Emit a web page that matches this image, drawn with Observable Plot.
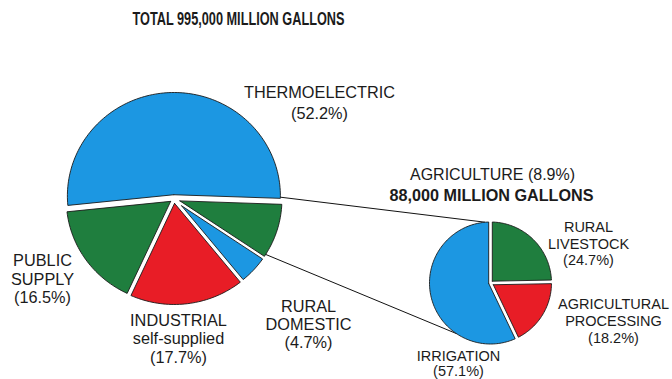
<!DOCTYPE html>
<html>
<head>
<meta charset="utf-8">
<script src="https://cdn.jsdelivr.net/npm/d3@7"></script>
<script src="https://cdn.jsdelivr.net/npm/@observablehq/plot@0.6"></script>
<style>
  html, body { margin: 0; padding: 0; background: #fff; }
  #chart svg { display: block; }
</style>
</head>
<body>
<div id="chart"></div>
<script>
// ---------- data ----------
const totalGallons = 995000;           // million gallons
const agricultureGallons = 88000;      // million gallons
const agricultureShare = 8.9;

const mainCategories = ["Agriculture", "Rural domestic", "Industrial", "Public supply", "Thermoelectric"];
const mainShares = [8.9, 4.7, 17.7, 16.5, 52.2];
const mainLabels = ["", "RURAL\nDOMESTIC", "INDUSTRIAL\nself-supplied", "PUBLIC\nSUPPLY", "THERMOELECTRIC"];

const agCategories = ["Rural livestock", "Agricultural processing", "Irrigation"];
const agShares = [24.7, 18.2, 57.1];
const agLabels = ["RURAL\nLIVESTOCK", "AGRICULTURAL\nPROCESSING", "IRRIGATION"];

// ---------- styling / layout ----------
const BLUE = "#1c97e2", GREEN = "#1f7e3e", RED = "#e81d26";
const colorDomain = [...mainCategories, ...agCategories];
const colorRange = [GREEN, BLUE, RED, GREEN, BLUE, GREEN, RED, BLUE];

const deg = Math.PI / 180;
const mainPie = {cx: 173.5, cy: 198.5, rx: 106.5, ry: 103.5, pad: 1.3, start: 92 * deg,
  explode: {"Thermoelectric": 3, "Agriculture": 1.5, "Rural domestic": 1.5, "Industrial": 2, "Public supply": 1.5}};
const agPie = {cx: 490, cy: 282.5, rx: 61, ry: 61, pad: 1.8, start: 0, explode: {}};

function piePoints(cats, shares, o, prefix) {
  const arcs = d3.pie().sort(null).value(d => d)
    .startAngle(o.start).endAngle(o.start + 2 * Math.PI)(shares);
  const k = o.ry / o.rx;
  const pts = [];
  arcs.forEach((a, i) => {
    const cat = cats[i];
    const a0 = a.startAngle, a1 = a.endAngle, s = a1 - a0, m = (a0 + a1) / 2;
    const ex = o.explode[cat] || 0;
    const d = o.pad / Math.sin(s / 2);
    const da = Math.asin(o.pad / o.rx);
    const b0 = a0 + da, b1 = a1 - da;
    const n = Math.max(2, Math.ceil((b1 - b0) / (1.5 * deg)));
    const P = (dx, dy) => ({
      id: prefix + i, cat,
      x: o.cx + ex * Math.sin(m) + dx,
      y: o.cy - ex * Math.cos(m) + dy * k
    });
    const v = P(d * Math.sin(m), -d * Math.cos(m));
    pts.push(v);
    for (let j = 0; j <= n; j++) {
      const t = b0 + (b1 - b0) * j / n;
      pts.push(P(o.rx * Math.sin(t), -o.rx * Math.cos(t)));
    }
    pts.push({...v});
  });
  return pts;
}
function piePoint(o, angleDeg) {
  const t = angleDeg * deg;
  return [o.cx + o.rx * Math.sin(t), o.cy - o.ry * Math.cos(t)];
}

const slicePts = [
  ...piePoints(mainCategories, mainShares, mainPie, "m"),
  ...piePoints(agCategories, agShares, agPie, "a")
];

// connectors from the agriculture wedge to the breakdown pie
const [c1x1, c1y1] = piePoint(mainPie, 89);
const [c1x2, c1y2] = piePoint(agPie, -5);
const [c2x1, c2y1] = piePoint(mainPie, 122);
const [c2x2, c2y2] = piePoint(agPie, 214);
const connectors = [
  {x1: c1x1, y1: c1y1, x2: c1x2, y2: c1y2},
  {x1: c2x1, y1: c2y1, x2: c2x2, y2: c2y2}
];

const pct = v => `(${v.toFixed(1)}%)`;
const fmt = d3.format(",");

// label anchors (layout)
const mainLabelPos = {
  "Thermoelectric": {x: 319, y: 90, lh: 1.33},
  "Public supply": {x: 42, y: 261, lh: 1.12},
  "Industrial": {x: 178, y: 320, lh: 1.15},
  "Rural domestic": {x: 308, y: 307, lh: 1.1}
};
const agLabelPos = {
  "Rural livestock": {x: 588, y: 227, lh: 1.15},
  "Agricultural processing": {x: 613, y: 303.5, lh: 1.18},
  "Irrigation": {x: 458, y: 357, lh: 1.05}
};

const mainText = mainCategories.map((c, i) => ({c, text: mainLabels[i] + "\n" + pct(mainShares[i]), ...mainLabelPos[c]}))
  .filter(d => d.x !== undefined);
const agText = agCategories.map((c, i) => ({c, text: agLabels[i] + "\n" + pct(agShares[i]), ...agLabelPos[c]}));

const textMarks = (rows, size) => rows.map(r => Plot.text([r], {
  x: "x", y: "y", text: "text", fontSize: size, lineHeight: r.lh,
  lineAnchor: "top", dy: -size * 0.5, fill: "#1b1b1b", textAnchor: "middle"
}));

const titleText = `TOTAL ${fmt(totalGallons)} MILLION GALLONS`;

const chart = Plot.plot({
  width: 672, height: 379, margin: 0,
  x: {domain: [0, 672], range: [0, 672], axis: null},
  y: {domain: [0, 379], range: [0, 379], axis: null},
  color: {domain: colorDomain, range: colorRange},
  style: {fontFamily: "'Liberation Sans', Arial, sans-serif", background: "#fff", overflow: "visible"},
  marks: [
    Plot.link(connectors, {x1: "x1", y1: "y1", x2: "x2", y2: "y2", stroke: "#111", strokeWidth: 1}),
    Plot.line(slicePts, {x: "x", y: "y", z: "id", fill: "cat", stroke: "#1a1a1a", strokeWidth: 0.9, curve: "linear"}),
    Plot.text([titleText], {
      x: 238, y: 18.5, text: d => d, fontSize: 17.5, fontWeight: "bold", fill: "#1b1b1b"
    }),
    Plot.text([`AGRICULTURE ${pct(agricultureShare)}`], {
      x: 492, y: 174, text: d => d, fontSize: 16, fill: "#1b1b1b"
    }),
    Plot.text([`${fmt(agricultureGallons)} MILLION GALLONS`], {
      x: 491, y: 195, text: d => d, fontSize: 16.2, fontWeight: "bold", fill: "#1b1b1b"
    }),
    ...textMarks(mainText, 16.3),
    ...textMarks(agText, 14.5)
  ]
});

// condense the headline to the width of the original typesetting
d3.select(chart).selectAll("text")
  .filter(function () { return this.textContent === titleText; })
  .attr("textLength", 212)
  .attr("lengthAdjust", "spacingAndGlyphs");

document.getElementById("chart").appendChild(chart);
</script>
</body>
</html>
